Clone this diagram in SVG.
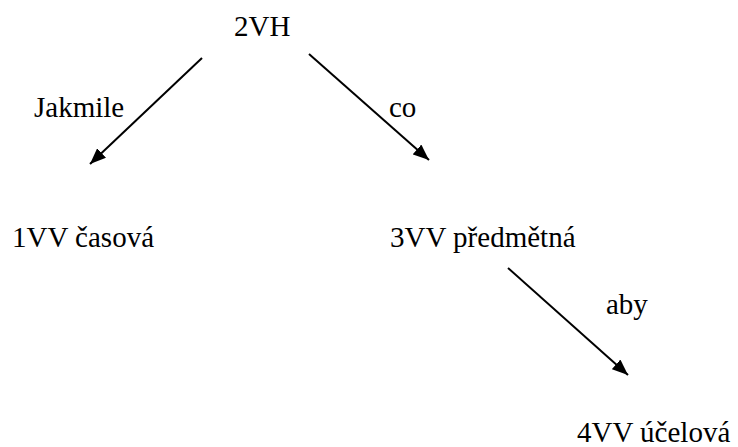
<svg xmlns="http://www.w3.org/2000/svg" width="738" height="447" viewBox="0 0 738 447">
<style>
.t{font-family:'Liberation Serif','Times New Roman',serif;font-size:29px;fill:#000}
.c line{stroke:#000;stroke-width:2;marker-end:url(#ah)}
</style>
<defs>
<marker id="ah" markerUnits="userSpaceOnUse" markerWidth="17" markerHeight="13" refX="16" refY="6.5" orient="auto">
<path d="M0,0 L16,6.5 L0,13 z" fill="#000"/>
</marker>
</defs>
<rect width="738" height="447" fill="#fff"/>
<g id="n2VH"><text class="t" x="234" y="36">2VH</text></g>
<g id="n1VV"><text class="t" x="12" y="247">1VV časová</text></g>
<g id="n3VV"><text class="t" x="390" y="247">3VV předmětná</text></g>
<g id="n4VV"><text class="t" x="577" y="442">4VV účelová</text></g>
<g class="c" id="connectors">
<line x1="202" y1="58" x2="90" y2="164"/>
<line x1="309" y1="54" x2="429" y2="160"/>
<line x1="508" y1="268" x2="628" y2="375"/>
<text class="t" x="34" y="117">Jakmile</text>
<text class="t" x="389" y="117">co</text>
<text class="t" x="606" y="314">aby</text>
</g>
</svg>
